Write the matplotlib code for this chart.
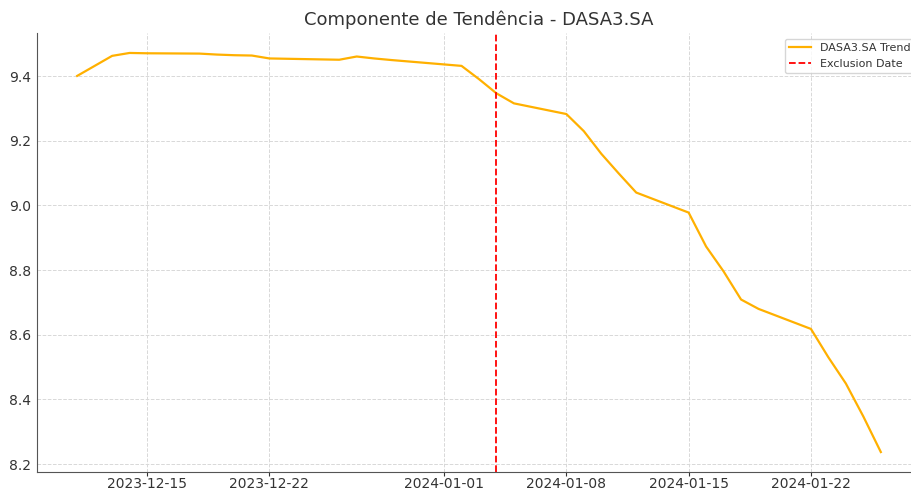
import matplotlib
matplotlib.use("Agg")
import matplotlib.pyplot as plt
import pandas as pd

# trend values (business days, holidays skipped)
dates = ["2023-12-11", "2023-12-12", "2023-12-13", "2023-12-14", "2023-12-15",
         "2023-12-18", "2023-12-19", "2023-12-20", "2023-12-21", "2023-12-22",
         "2023-12-26", "2023-12-27", "2023-12-28", "2023-12-29",
         "2024-01-02", "2024-01-03", "2024-01-04", "2024-01-05",
         "2024-01-08", "2024-01-09", "2024-01-10", "2024-01-11", "2024-01-12",
         "2024-01-15", "2024-01-16", "2024-01-17", "2024-01-18", "2024-01-19",
         "2024-01-22", "2024-01-23", "2024-01-24", "2024-01-25", "2024-01-26"]
trend = [9.401, 9.432, 9.463, 9.472, 9.471,
         9.470, 9.467, 9.465, 9.464, 9.455,
         9.451, 9.461, 9.455, 9.450,
         9.432, 9.391, 9.347, 9.316,
         9.283, 9.230, 9.160, 9.099, 9.040,
         8.978, 8.873, 8.796, 8.709, 8.680,
         8.618, 8.530, 8.449, 8.347, 8.237]
exclusion_date = "2024-01-04"

dates = pd.to_datetime(dates)

text_col = "#333333"
plt.rcParams["font.family"] = "DejaVu Sans"

fig = plt.figure(figsize=(9.12, 4.91), dpi=100)
# the original picture is cropped on the right, so the axes run past the edge
ax = fig.add_axes([37 / 912, 19 / 491, 884 / 912, 439 / 491])

ax.plot(dates, trend, color="#FFB000", linewidth=1.6, label="DASA3.SA Trend")
ax.axvline(pd.Timestamp(exclusion_date), color="red", linestyle="--",
           linewidth=1.3, label="Exclusion Date")

ax.set_title("Componente de Tendência - DASA3.SA", fontsize=13, color=text_col, pad=6)
ax.grid(True, linestyle="--", color="#d8d8d8", linewidth=0.7)
ax.set_axisbelow(True)

for side in ["top", "right"]:
    ax.spines[side].set_visible(False)
for side in ["left", "bottom"]:
    ax.spines[side].set_color("#555555")
ax.tick_params(axis="both", labelsize=10, colors=text_col)
ax.tick_params(axis="x", length=3, pad=0.5)
ax.tick_params(axis="y", length=0, pad=4)

leg = ax.legend(loc="upper right", fontsize=8, frameon=True)
leg.get_frame().set_edgecolor("#cccccc")
for t in leg.get_texts():
    t.set_color(text_col)

fig.savefig("out.png", dpi=100)
